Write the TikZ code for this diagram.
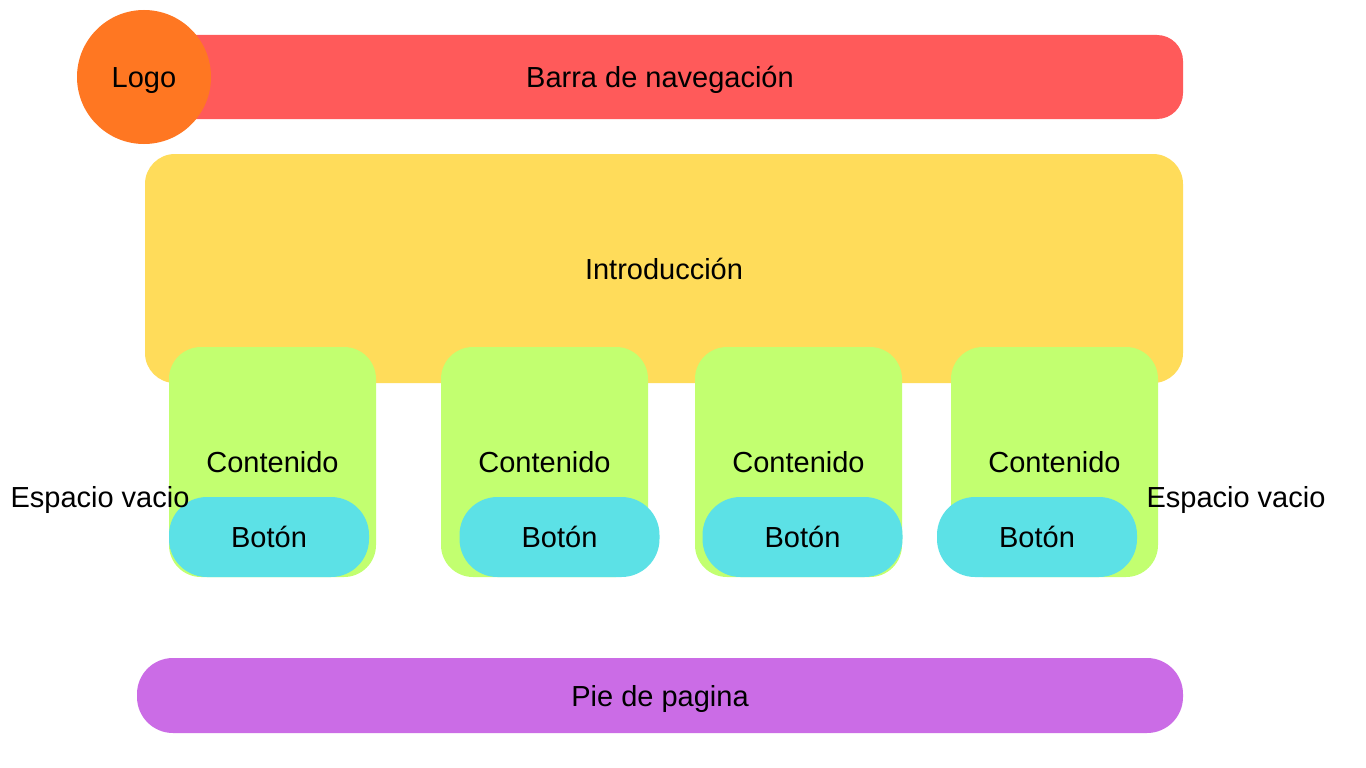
\documentclass[tikz,border=0pt]{standalone}
\usepackage{fontspec}
\setmainfont{Liberation Sans}
\definecolor{navc}{HTML}{FF5A5A}
\definecolor{logoc}{HTML}{FF7722}
\definecolor{introc}{HTML}{FFDC5A}
\definecolor{contc}{HTML}{C2FF70}
\definecolor{btnc}{HTML}{5CE1E6}
\definecolor{footc}{HTML}{CB6CE6}
\begin{document}
\begin{tikzpicture}[x=1pt,y=-1pt,
  every node/.style={font=\fontsize{29}{34}\selectfont, inner sep=0pt, outer sep=0pt, text height=21pt, text depth=0pt},
  blk/.style={rectangle, draw=none},
  navbox/.style={blk, fill=navc, rounded corners=26pt, minimum width=1046pt, minimum height=84pt},
  logobox/.style={circle, fill=logoc, minimum size=134pt},
  introbox/.style={blk, fill=introc, rounded corners=30pt, minimum width=1038pt, minimum height=229pt},
  contbox/.style={blk, fill=contc, rounded corners=32pt, minimum width=207pt, minimum height=230pt},
  btnbox/.style={blk, fill=btnc, rounded corners=38pt, minimum width=200pt, minimum height=80pt},
  footbox/.style={blk, fill=footc, rounded corners=36pt, minimum width=1046pt, minimum height=75pt},
  lbl/.style={}]
\useasboundingbox[fill=white] (0,0) rectangle (1366,768);
\node[navbox] (nav) at (660,77) {Barra de navegación};
\node[logobox] (logo) at (144,77) {Logo};
\node[introbox] (intro) at (664,268.5) {Introducción};
\node[contbox] (c1) at (272.5,462) {Contenido};
\node[contbox] (c2) at (544.5,462) {Contenido};
\node[contbox] (c3) at (798.5,462) {Contenido};
\node[contbox] (c4) at (1054.5,462) {Contenido};
\node[btnbox] (b1) at (269,537) {Botón};
\node[btnbox] (b2) at (559.5,537) {Botón};
\node[btnbox] (b3) at (802.5,537) {Botón};
\node[btnbox] (b4) at (1037,537) {Botón};
\node[lbl] (el) at (100,497) {Espacio vacio};
\node[lbl] (er) at (1236,497) {Espacio vacio};
\node[footbox] (foot) at (660,695.5) {Pie de pagina};
\end{tikzpicture}
\end{document}
